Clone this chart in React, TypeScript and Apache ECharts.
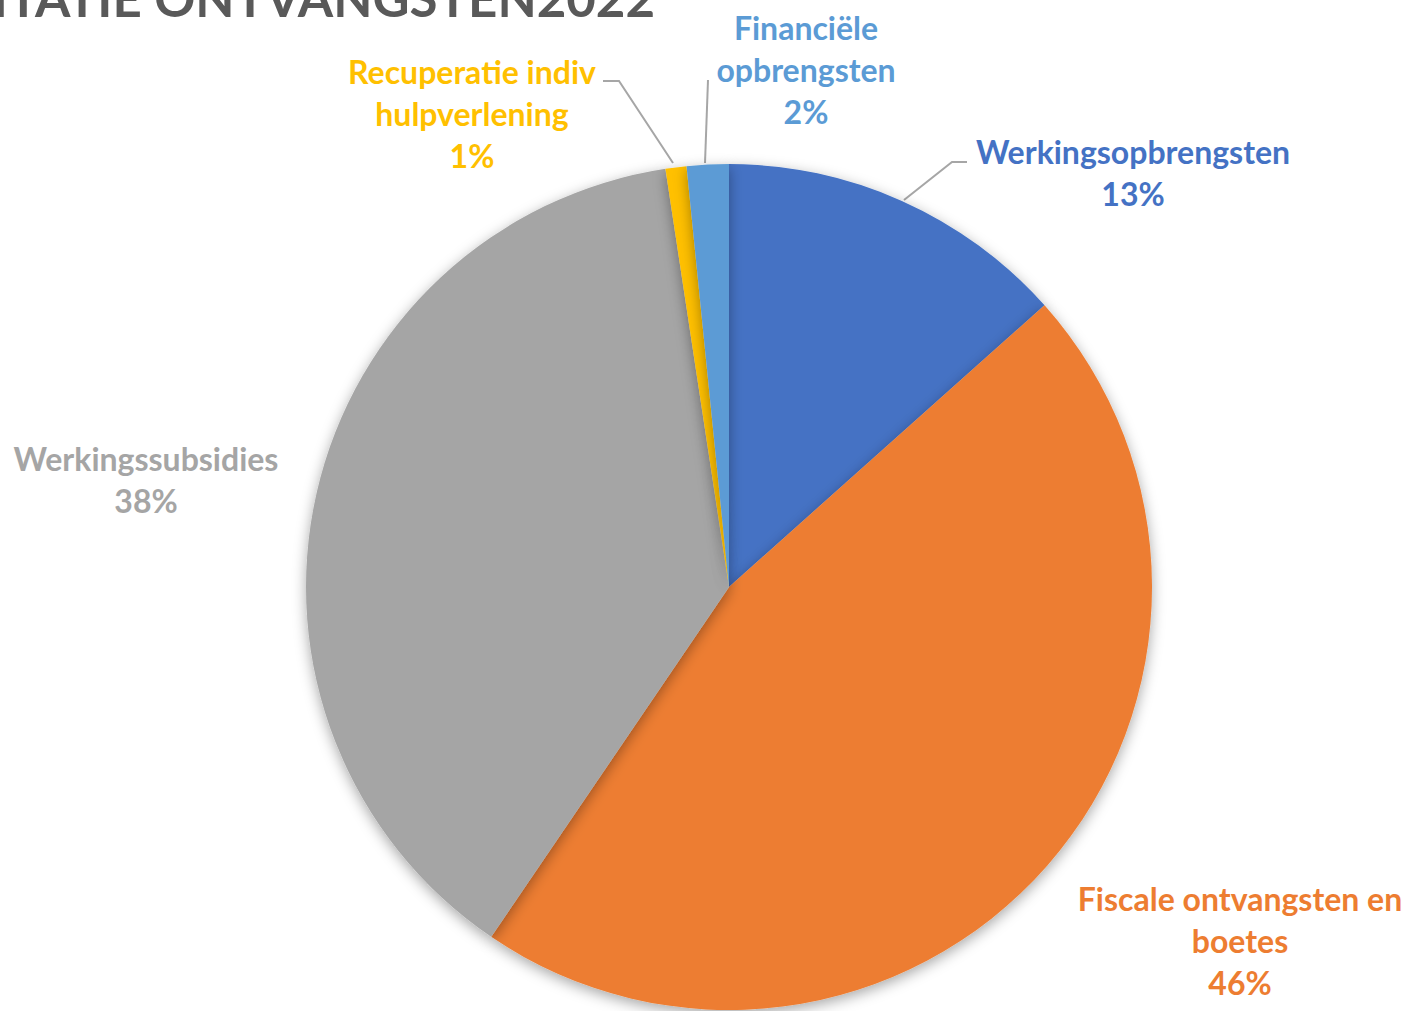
import React, { useEffect, useRef } from 'react';
import * as echarts from 'echarts';

const categories = [
  'Werkingsopbrengsten',
  'Fiscale ontvangsten en\nboetes',
  'Werkingssubsidies',
  'Recuperatie indiv\nhulpverlening',
  'Financiële\nopbrengsten',
];
const values = [13.4, 46.1, 38.1, 0.8, 1.6];
const colors = ['#4472C4', '#ED7D31', '#A5A5A5', '#FFC000', '#5B9BD5'];
const titleText = 'EXPLOITATIE ONTVANGSTEN2022';

const labelPos: number[][] = [
  [1133, 172],
  [1240, 940],
  [146, 479],
  [472, 113],
  [806, 69],
];
const linePts: (number[][] | null)[] = [
  [[904, 200], [952, 162], [967, 162]],
  null,
  null,
  [[673, 163], [619, 81], [603, 81]],
  [[705, 163], [708, 80]],
];

export default function App() {
  const ref = useRef<HTMLDivElement>(null);
  useEffect(() => {
    document.body.style.margin = '0';
    if (!ref.current) return;
    const chart = echarts.init(ref.current, undefined, { renderer: 'svg' });
    const font = 'Lato, "Open Sans", sans-serif';
    chart.setOption({
      animation: false,
      backgroundColor: '#ffffff',
      graphic: [
        {
          type: 'text',
          x: 655,
          y: -3,
          style: {
            text: titleText,
            fill: '#595959',
            font: `bold 51px ${font}`,
            align: 'right',
            verticalAlign: 'middle',
          },
        },
      ],
      series: [
        {
          type: 'pie',
          center: [729, 587],
          radius: 423,
          startAngle: 90,
          clockwise: true,
          percentPrecision: 0,
          avoidLabelOverlap: false,
          itemStyle: {
            shadowBlur: 14,
            shadowOffsetY: 4,
            shadowColor: 'rgba(0,0,0,0.35)',
          },
          label: {
            show: true,
            position: 'outside',
            formatter: '{b}\n{d}%',
            fontFamily: font,
            fontWeight: 'bold',
            fontSize: 32,
            lineHeight: 42,
            align: 'center',
          },
          labelLine: {
            show: true,
            lineStyle: { color: '#A6A6A6', width: 2 },
          },
          labelLayout: (p: any) => {
            const i = p.dataIndex;
            const res: any = {
              x: labelPos[i][0],
              y: labelPos[i][1],
              align: 'center',
              verticalAlign: 'middle',
            };
            if (linePts[i]) res.labelLinePoints = linePts[i];
            return res;
          },
          data: categories.map((name, i) => ({
            name,
            value: values[i],
            itemStyle: { color: colors[i] },
            label: { color: colors[i] },
            labelLine: { show: linePts[i] !== null },
          })),
        },
      ],
    });
    return () => chart.dispose();
  }, []);
  return <div ref={ref} style={{ width: 1413, height: 1011 }} />;
}
